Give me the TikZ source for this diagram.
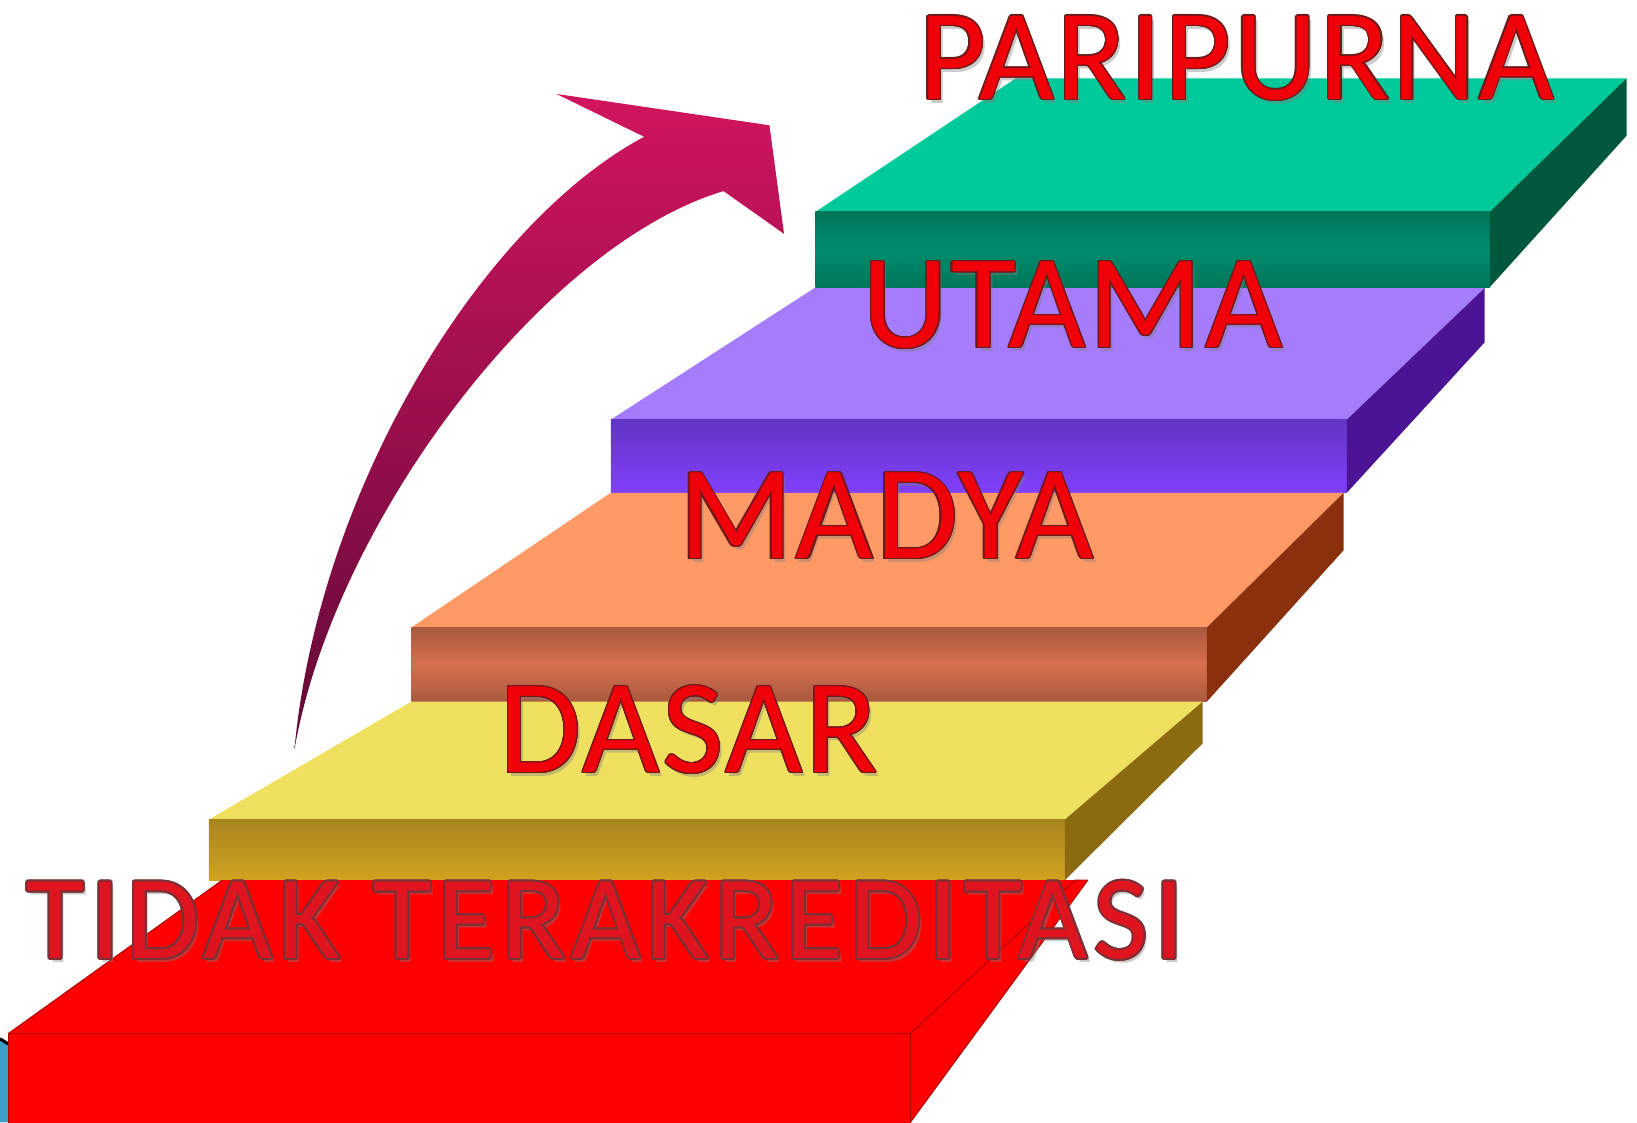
\documentclass[tikz,border=0pt]{standalone}
\usepackage{fontspec}
\setmainfont{Carlito}
\usepackage{contour}
\contourlength{0.6pt}
\definecolor{tealtop}{HTML}{00C99A}
\definecolor{tealfa}{HTML}{00765A}
\definecolor{tealfb}{HTML}{008C6C}
\definecolor{tealside}{HTML}{00583C}
\definecolor{purtop}{HTML}{A47CFC}
\definecolor{purfa}{HTML}{6234C4}
\definecolor{purfb}{HTML}{8040FC}
\definecolor{purside}{HTML}{4A1494}
\definecolor{orgtop}{HTML}{FF9A66}
\definecolor{orgfa}{HTML}{A85A3E}
\definecolor{orgfb}{HTML}{D86E50}
\definecolor{orgside}{HTML}{8A300C}
\definecolor{yeltop}{HTML}{F0E060}
\definecolor{yelfa}{HTML}{A8841E}
\definecolor{yelfb}{HTML}{D0A420}
\definecolor{yelside}{HTML}{8B6A10}
\definecolor{redbox}{HTML}{FF0000}
\definecolor{redline}{HTML}{B00000}
\definecolor{arrtop}{HTML}{D2145F}
\definecolor{arrmid}{HTML}{B21250}
\definecolor{arrbot}{HTML}{600A36}
\definecolor{txtred}{HTML}{F00008}
\definecolor{txtredb}{HTML}{E0141E}
\definecolor{txtout}{HTML}{6E1A1A}
\definecolor{txtoutb}{HTML}{7A3036}
\definecolor{boxblue}{HTML}{3BA0C8}
\tikzset{
  lbl/.style={anchor=base west, inner sep=0pt, text=txtred},
  shadowlbl/.style={anchor=base west, inner sep=0pt, text=gray, opacity=0.4},
  redface/.style={fill=redbox, draw=redline, line width=0.5pt, line join=round},
}
\newcommand{\stagetext}[1]{\contour{txtout}{#1}}
\newcommand{\bigfont}[1]{\fontsize{#1}{#1}\selectfont\addfontfeatures{LetterSpace=2}}
\begin{document}
\begin{tikzpicture}[x=0.5pt,y=-0.5pt]
\useasboundingbox (0,0) rectangle (1568,1075);
\fill[white] (0,0) rectangle (1568,1075);

% small blue piece at the left edge
\fill[boxblue] (0,996) -- (8,1000) -- (8,1075) -- (0,1075) -- cycle;
\draw[black, line width=1.5pt] (0,995) -- (8,1000);

% PARIPURNA step
\fill[tealtop] (781,203) -- (973,75) -- (1558,75) -- (1427,203) -- cycle;
\shade[top color=tealfa, bottom color=tealfa, middle color=tealfb] (781,203) rectangle (1427,275);
\fill[tealside] (1427,203) -- (1558,75) -- (1558,130) -- (1427,275) -- cycle;

% UTAMA step
\fill[purtop] (585,402) -- (780,276) -- (1422,276) -- (1290,402) -- cycle;
\shade[top color=purfa, bottom color=purfb] (585,402) rectangle (1290,472);
\fill[purside] (1290,402) -- (1422,276) -- (1422,328) -- (1290,472) -- cycle;

% MADYA step
\fill[orgtop] (394,601) -- (585,472) -- (1287,472) -- (1156,601) -- cycle;
\shade[top color=orgfa, bottom color=orgfa, middle color=orgfb] (394,601) rectangle (1156,672);
\fill[orgside] (1156,601) -- (1287,472) -- (1287,527) -- (1156,672) -- cycle;

% DASAR step
\fill[yeltop] (200,785) -- (394,672) -- (1152,672) -- (1020,785) -- cycle;
\shade[top color=yelfa, bottom color=yelfb] (200,785) rectangle (1020,843);
\fill[yelside] (1020,785) -- (1152,672) -- (1152,712) -- (1020,843) -- cycle;

% TIDAK TERAKREDITASI step
\fill[redbox] (8,990) -- (213,843) -- (1030,843) -- (872,990) -- cycle;
\draw[redline, line width=0.5pt] (8,990) -- (213,843);
\draw[redface] (872,990) -- (1030,843) -- (1042,843) -- (872,1075) -- cycle;
\draw[redface] (8,990) rectangle (872,1080);

% curved arrow
\shade[top color=arrtop, middle color=arrmid, bottom color=arrbot]
  (282,718) .. controls (305,470) and (460,215) .. (617,131)
  -- (533,90) -- (737,120) -- (751,224) -- (693,183)
  .. controls (520,235) and (320,500) .. (282,718) -- cycle;

% labels
\node[shadowlbl] (s1) at (883,99) {\bigfont{62}PARIPURNA};
\node[lbl] (t1) at (880,95) {\bigfont{62}\stagetext{PARIPURNA}};
\node[shadowlbl] (s2) at (829,337) {\bigfont{64}UTAMA};
\node[lbl] (t2) at (826,333) {\bigfont{64}\stagetext{UTAMA}};
\node[shadowlbl] (s3) at (653,539) {\bigfont{64}MADYA};
\node[lbl] (t3) at (650,535) {\bigfont{64}\stagetext{MADYA}};
\node[shadowlbl] (s4) at (481,744) {\bigfont{64}DASAR};
\node[lbl] (t4) at (478,740) {\bigfont{64}\stagetext{DASAR}};
\node[shadowlbl] (s5) at (28,922) {\fontsize{57}{57}\selectfont\addfontfeatures{LetterSpace=5}TIDAK TERAKREDITASI};
\node[lbl, text=txtredb] (t5) at (25,918) {\fontsize{57}{57}\selectfont\addfontfeatures{LetterSpace=5}\contourlength{0.9pt}\contour{txtoutb}{TIDAK TERAKREDITASI}};
\end{tikzpicture}
\end{document}
